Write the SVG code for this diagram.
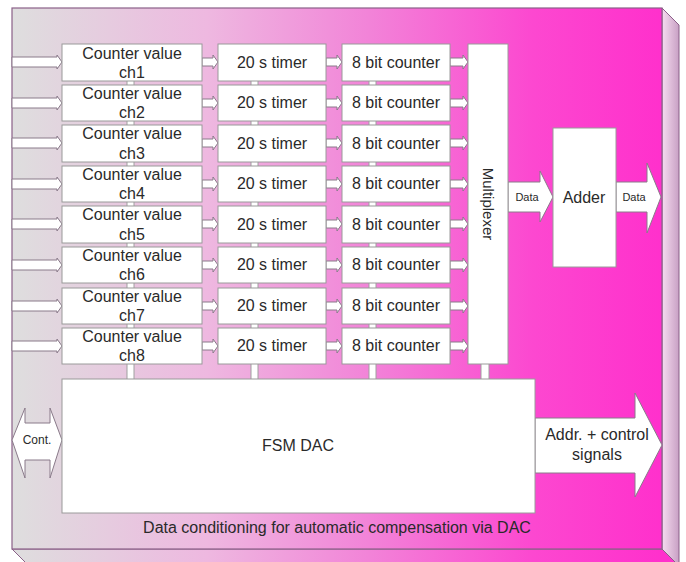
<svg xmlns="http://www.w3.org/2000/svg" width="686" height="562" viewBox="0 0 686 562">
<defs>
<linearGradient id="gFront" gradientUnits="userSpaceOnUse" x1="12" y1="0" x2="662" y2="0">
<stop offset="0" stop-color="#dedede"/>
<stop offset="0.3" stop-color="#eeb8e0"/>
<stop offset="0.55" stop-color="#f283d8"/>
<stop offset="0.8" stop-color="#fc48d0"/>
<stop offset="1" stop-color="#ff30cc"/>
</linearGradient>
<linearGradient id="gSide" gradientUnits="userSpaceOnUse" x1="662" y1="0" x2="679" y2="0">
<stop offset="0" stop-color="#f6dcf0"/>
<stop offset="1" stop-color="#c8a0c4"/>
</linearGradient>
<style>
.box{fill:#ffffff;stroke:#9a9a9a;stroke-width:1}
.bus{fill:#ffffff;stroke:#a0a0a0;stroke-width:1}
.arr{fill:#ffffff;stroke:#8a7a8a;stroke-width:1}
.t{font-family:"Liberation Sans",Arial,sans-serif;fill:#2a2a2a;text-anchor:middle}
.t15{font-size:16px}
.t16{font-size:16px}
.t11{font-size:11px}
</style>
</defs>

<g id="frame">
<polygon points="662,8 679,25 679,566 662,549" fill="url(#gSide)" stroke="#8a6088" stroke-width="1"/>
<polygon points="12,549 662,549 679,566 29,566" fill="url(#gFront)" stroke="#8a6088" stroke-width="1"/>
<rect x="12" y="8" width="650" height="541" fill="url(#gFront)" stroke="#8a6088" stroke-width="1.2"/>
<text class="t" x="337" y="533" font-size="16" fill="#302030">Data conditioning for automatic compensation via DAC</text>
</g>

<g id="connectors">
<rect class="bus" x="127" y="62" width="7" height="318"/>
<rect class="bus" x="251" y="62" width="7" height="318"/>
<rect class="bus" x="369" y="62" width="7" height="318"/>
<rect class="bus" x="481" y="350" width="8" height="30"/>
<g id="inputs">
<polygon class="arr" points="12,57 57,57 57,55 62,62 57,69 57,67 12,67"/>
<polygon class="arr" points="12,98 57,98 57,96 62,103 57,110 57,108 12,108"/>
<polygon class="arr" points="12,138 57,138 57,136 62,143 57,150 57,148 12,148"/>
<polygon class="arr" points="12,179 57,179 57,177 62,184 57,191 57,189 12,189"/>
<polygon class="arr" points="12,219 57,219 57,217 62,224 57,231 57,229 12,229"/>
<polygon class="arr" points="12,260 57,260 57,258 62,265 57,272 57,270 12,270"/>
<polygon class="arr" points="12,301 57,301 57,299 62,306 57,313 57,311 12,311"/>
<polygon class="arr" points="12,341 57,341 57,339 62,346 57,353 57,351 12,351"/>
</g>
<g id="cv2timer">
<polygon class="arr" points="202,58 213,58 213,55 218,62 213,69 213,66 202,66"/>
<polygon class="arr" points="202,99 213,99 213,96 218,103 213,110 213,107 202,107"/>
<polygon class="arr" points="202,139 213,139 213,136 218,143 213,150 213,147 202,147"/>
<polygon class="arr" points="202,180 213,180 213,177 218,184 213,191 213,188 202,188"/>
<polygon class="arr" points="202,220 213,220 213,217 218,224 213,231 213,228 202,228"/>
<polygon class="arr" points="202,261 213,261 213,258 218,265 213,272 213,269 202,269"/>
<polygon class="arr" points="202,302 213,302 213,299 218,306 213,313 213,310 202,310"/>
<polygon class="arr" points="202,342 213,342 213,339 218,346 213,353 213,350 202,350"/>
</g>
<g id="timer2cnt">
<polygon class="arr" points="326,58 337,58 337,55 342,62 337,69 337,66 326,66"/>
<polygon class="arr" points="326,99 337,99 337,96 342,103 337,110 337,107 326,107"/>
<polygon class="arr" points="326,139 337,139 337,136 342,143 337,150 337,147 326,147"/>
<polygon class="arr" points="326,180 337,180 337,177 342,184 337,191 337,188 326,188"/>
<polygon class="arr" points="326,220 337,220 337,217 342,224 337,231 337,228 326,228"/>
<polygon class="arr" points="326,261 337,261 337,258 342,265 337,272 337,269 326,269"/>
<polygon class="arr" points="326,302 337,302 337,299 342,306 337,313 337,310 326,310"/>
<polygon class="arr" points="326,342 337,342 337,339 342,346 337,353 337,350 326,350"/>
</g>
<g id="cnt2mux">
<polygon class="arr" points="450,58 463,58 463,55 468,62 463,69 463,66 450,66"/>
<polygon class="arr" points="450,99 463,99 463,96 468,103 463,110 463,107 450,107"/>
<polygon class="arr" points="450,139 463,139 463,136 468,143 463,150 463,147 450,147"/>
<polygon class="arr" points="450,180 463,180 463,177 468,184 463,191 463,188 450,188"/>
<polygon class="arr" points="450,220 463,220 463,217 468,224 463,231 463,228 450,228"/>
<polygon class="arr" points="450,261 463,261 463,258 468,265 463,272 463,269 450,269"/>
<polygon class="arr" points="450,302 463,302 463,299 468,306 463,313 463,310 450,310"/>
<polygon class="arr" points="450,342 463,342 463,339 468,346 463,353 463,350 450,350"/>
</g>
<g id="dataIn">
<polygon class="arr" points="508,182 540,182 540,171 553,197 540,222 540,212 508,212"/>
<text class="t t11" x="527" y="201">Data</text>
</g>
<g id="dataOut">
<polygon class="arr" points="616,182 647,182 647,163 661,197 647,233 647,212 616,212"/>
<text class="t t11" x="634" y="201">Data</text>
</g>
<g id="addrArrow">
<polygon class="arr" points="535,418 635,418 635,393 662,445 635,497 635,473 535,473"/>
<text class="t t15" x="597" y="440">Addr. + control</text>
<text class="t t15" x="597" y="460">signals</text>
</g>
<g id="contArrow">
<polygon class="arr" points="12,440 25,408 25,423 50,423 50,408 62,440 50,478 50,460 25,460 25,478"/>
<text class="t" x="37" y="444" font-size="12">Cont.</text>
</g>
</g>

<g id="counter-values">
<g id="cv1"><rect class="box" x="62" y="44" width="140" height="37"/><text class="t t15" x="132" y="59">Counter value</text><text class="t t15" x="132" y="78">ch1</text></g>
<g id="cv2"><rect class="box" x="62" y="85" width="140" height="36"/><text class="t t15" x="132" y="99">Counter value</text><text class="t t15" x="132" y="118">ch2</text></g>
<g id="cv3"><rect class="box" x="62" y="125" width="140" height="37"/><text class="t t15" x="132" y="139">Counter value</text><text class="t t15" x="132" y="159">ch3</text></g>
<g id="cv4"><rect class="box" x="62" y="166" width="140" height="36"/><text class="t t15" x="132" y="180">Counter value</text><text class="t t15" x="132" y="199">ch4</text></g>
<g id="cv5"><rect class="box" x="62" y="206" width="140" height="37"/><text class="t t15" x="132" y="220">Counter value</text><text class="t t15" x="132" y="240">ch5</text></g>
<g id="cv6"><rect class="box" x="62" y="247" width="140" height="36"/><text class="t t15" x="132" y="261">Counter value</text><text class="t t15" x="132" y="280">ch6</text></g>
<g id="cv7"><rect class="box" x="62" y="288" width="140" height="36"/><text class="t t15" x="132" y="302">Counter value</text><text class="t t15" x="132" y="321">ch7</text></g>
<g id="cv8"><rect class="box" x="62" y="328" width="140" height="36"/><text class="t t15" x="132" y="342">Counter value</text><text class="t t15" x="132" y="361">ch8</text></g>
</g>

<g id="timers">
<g id="tm1"><rect class="box" x="218" y="44" width="108" height="37"/><text class="t t15" x="272" y="68">20 s timer</text></g>
<g id="tm2"><rect class="box" x="218" y="85" width="108" height="36"/><text class="t t15" x="272" y="108">20 s timer</text></g>
<g id="tm3"><rect class="box" x="218" y="125" width="108" height="37"/><text class="t t15" x="272" y="149">20 s timer</text></g>
<g id="tm4"><rect class="box" x="218" y="166" width="108" height="36"/><text class="t t15" x="272" y="189">20 s timer</text></g>
<g id="tm5"><rect class="box" x="218" y="206" width="108" height="37"/><text class="t t15" x="272" y="230">20 s timer</text></g>
<g id="tm6"><rect class="box" x="218" y="247" width="108" height="36"/><text class="t t15" x="272" y="270">20 s timer</text></g>
<g id="tm7"><rect class="box" x="218" y="288" width="108" height="36"/><text class="t t15" x="272" y="311">20 s timer</text></g>
<g id="tm8"><rect class="box" x="218" y="328" width="108" height="36"/><text class="t t15" x="272" y="351">20 s timer</text></g>
</g>

<g id="counters">
<g id="bc1"><rect class="box" x="342" y="44" width="108" height="37"/><text class="t t15" x="396" y="68">8 bit counter</text></g>
<g id="bc2"><rect class="box" x="342" y="85" width="108" height="36"/><text class="t t15" x="396" y="108">8 bit counter</text></g>
<g id="bc3"><rect class="box" x="342" y="125" width="108" height="37"/><text class="t t15" x="396" y="149">8 bit counter</text></g>
<g id="bc4"><rect class="box" x="342" y="166" width="108" height="36"/><text class="t t15" x="396" y="189">8 bit counter</text></g>
<g id="bc5"><rect class="box" x="342" y="206" width="108" height="37"/><text class="t t15" x="396" y="230">8 bit counter</text></g>
<g id="bc6"><rect class="box" x="342" y="247" width="108" height="36"/><text class="t t15" x="396" y="270">8 bit counter</text></g>
<g id="bc7"><rect class="box" x="342" y="288" width="108" height="36"/><text class="t t15" x="396" y="311">8 bit counter</text></g>
<g id="bc8"><rect class="box" x="342" y="328" width="108" height="36"/><text class="t t15" x="396" y="351">8 bit counter</text></g>
</g>

<g id="multiplexer">
<rect class="box" x="468" y="44" width="40" height="320"/>
<text class="t" font-size="15" transform="translate(483,204) rotate(90)">Multiplexer</text>
</g>

<g id="adder">
<rect class="box" x="553" y="128" width="63" height="139"/>
<text class="t t16" x="584" y="203">Adder</text>
</g>

<g id="fsm">
<rect class="box" x="62" y="379" width="473" height="134"/>
<text class="t t16" x="298" y="451">FSM DAC</text>
</g>
</svg>
